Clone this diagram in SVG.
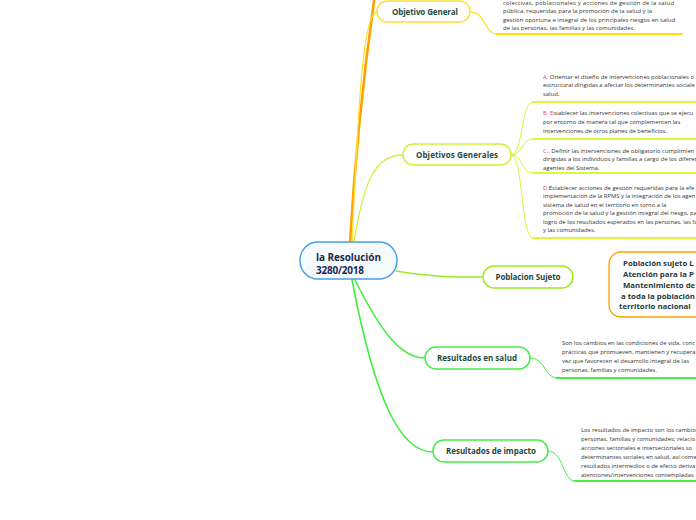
<svg xmlns="http://www.w3.org/2000/svg" width="696" height="520" viewBox="0 0 696 520">
<style>
.node{fill:#ffffff;stroke-width:1.5}
.nt{font-family:"Open Sans","Noto Sans",sans-serif;font-weight:bold;font-size:8px;fill:#1e4a3c;text-anchor:middle}
.bt{font-family:"Open Sans","Noto Sans",sans-serif;font-size:5.9px;fill:#333333}
.red{fill:#e8406a}
.c{fill:none;stroke-linecap:round}
</style>
<rect width="696" height="520" fill="#ffffff"/>
<g id="connectors">
  <path class="c" d="M350,243 Q357,120 375,-6" stroke="#ffa000" stroke-width="2.6"/>
  <path class="c" d="M352,242 C358,120 362,12 377,12" stroke="#ffe033" stroke-width="1.3"/>
  <path class="c" d="M354,242 C364,180 375,155 403,155" stroke="#d2f03a" stroke-width="1.3"/>
  <path class="c" d="M396,271 C440,278 460,277 483,277" stroke="#99ec22" stroke-width="1.5"/>
  <path class="c" d="M355,280 C380,330 400,358 425,358" stroke="#44ee44" stroke-width="1.6"/>
  <path class="c" d="M352,280 C375,400 400,452 433,452" stroke="#44ee44" stroke-width="1.6"/>
  <path class="c" d="M470,12 C486,12 484,34 497,34" stroke="#ffe033" stroke-width="1.3"/>
  <path class="c" d="M497,34 L682,34" stroke="#ffe000" stroke-width="2"/>
  <g stroke="#d8f53a" stroke-width="1">
    <path class="c" d="M511,155 C524,155 520,102 533,102"/>
    <path class="c" d="M511,155 C524,155 520,139 533,139"/>
    <path class="c" d="M511,155 C524,155 520,173 533,173"/>
    <path class="c" d="M511,155 C524,155 520,238 533,238"/>
  </g>
  <g stroke="#dcf83a" stroke-width="2">
    <path class="c" d="M533,102 L700,102"/>
    <path class="c" d="M533,139 L700,139"/>
    <path class="c" d="M533,173 L700,173"/>
    <path class="c" d="M533,238 L700,238"/>
  </g>
  <path class="c" d="M530,358 C546,358 544,378 557,378" stroke="#44ee44" stroke-width="1"/>
  <path class="c" d="M557,378 L700,378" stroke="#44ee44" stroke-width="2"/>
  <path class="c" d="M548,451 C564,451 562,481 575,481" stroke="#44ee44" stroke-width="1"/>
  <path class="c" d="M575,481 L700,481" stroke="#44ee44" stroke-width="2"/>
</g>
<g id="root">
  <rect x="300" y="242" width="97" height="37" rx="18" fill="#f6fbff" stroke="#4d9de0" stroke-width="1.5"/>
  <text x="316" y="261" font-family="'Open Sans','Noto Sans',sans-serif" font-weight="bold" font-size="10px" fill="#1b2a4e" textLength="65">la Resolución</text>
  <text x="316" y="274" font-family="'Open Sans','Noto Sans',sans-serif" font-weight="bold" font-size="10px" fill="#1b2a4e" textLength="48">3280/2018</text>
</g>
<g id="objetivo-general">
  <rect class="node" x="377" y="1" width="93" height="21" rx="10.5" stroke="#ffe033"/>
  <text class="nt" x="425" y="15" textLength="66">Objetivo General</text>
  <text class="bt" x="503" y="4.5" textLength="171">colectivas, poblacionales y acciones de gestión de la salud</text>
  <text class="bt" x="503" y="12.5" textLength="149">pública, requeridas para la promoción de la salud y la</text>
  <text class="bt" x="503" y="21.5" textLength="172">gestión oportuna e integral de los principales riesgos en salud</text>
  <text class="bt" x="503" y="29.5" textLength="132">de las personas, las familias y las comunidades.</text>
</g>
<g id="objetivos-generales">
  <rect class="node" x="403" y="144" width="108" height="21" rx="10.5" stroke="#d2f03a"/>
  <text class="nt" x="457" y="158" textLength="82">Objetivos  Generales</text>
</g>
<g id="obj-a">
  <text class="bt" x="543" y="78.5"><tspan class="red">A. </tspan>Orientar el diseño de intervenciones poblacionales o</text>
  <text class="bt" x="543" y="87">estructural dirigidas a afectar los determinantes sociale</text>
  <text class="bt" x="543" y="95.5">salud,</text>
</g>
<g id="obj-b">
  <text class="bt" x="543" y="115"><tspan class="red">B. E</tspan>stablecer las intervenciones colectivas que se ejecu</text>
  <text class="bt" x="543" y="124">por entorno de manera tal que complementen las</text>
  <text class="bt" x="543" y="132.5">intervenciones de otros planes de beneficios.</text>
</g>
<g id="obj-c">
  <text class="bt" x="543" y="152.5"><tspan class="red">C.</tspan>. Definir  las intervenciones de obligatorio cumplimien</text>
  <text class="bt" x="543" y="161">dirigidas a los individuos y familias a cargo de los diferen</text>
  <text class="bt" x="543" y="169.5">agentes del Sistema,</text>
</g>
<g id="obj-d">
  <text class="bt" x="543" y="189.5"><tspan class="red">D.</tspan>Establecer acciones de gestión requeridas para la efe</text>
  <text class="bt" x="543" y="198">implementación de la RPMS y la integración de los agen</text>
  <text class="bt" x="543" y="206.5">sistema de salud en el territorio en torno a la</text>
  <text class="bt" x="543" y="215">promoción de la salud y la gestión integral del riesgo, pa</text>
  <text class="bt" x="543" y="223.5">logro de los resultados esperados en las personas, las fa</text>
  <text class="bt" x="543" y="232">y las comunidades.</text>
</g>
<g id="poblacion-sujeto">
  <rect class="node" x="483" y="266" width="90" height="22" rx="11" stroke="#99ec22"/>
  <text class="nt" x="528" y="280" textLength="65">Poblacion Sujeto</text>
</g>
<g id="poblacion-detalle">
  <rect x="609" y="252" width="110" height="65" rx="12" fill="#ffffff" stroke="#ffa000" stroke-width="1.3"/>
  <g font-family="'Open Sans','Noto Sans',sans-serif" font-weight="bold" font-size="7.8px" fill="#1e3a40">
    <text x="623" y="266">Población sujeto L</text>
    <text x="623" y="277">Atención para la P</text>
    <text x="623" y="288">Mantenimiento de</text>
    <text x="621" y="299">a toda la población</text>
    <text x="619" y="309">territorio nacional</text>
  </g>
</g>
<g id="resultados-salud">
  <rect class="node" x="425" y="347" width="105" height="22" rx="11" stroke="#44ee44"/>
  <text class="nt" x="477" y="361" textLength="80">Resultados en salud</text>
  <text class="bt" x="562" y="345">Son los cambios en las condiciones de vida, conc</text>
  <text class="bt" x="562" y="354">prácticas que promueven, mantienen y recupera</text>
  <text class="bt" x="562" y="363" textLength="127">vez que favorecen el desarrollo integral de las</text>
  <text class="bt" x="562" y="372" textLength="95">personas, familias y comunidades.</text>
</g>
<g id="resultados-impacto">
  <rect class="node" x="433" y="440" width="115" height="22" rx="11" stroke="#44ee44"/>
  <text class="nt" x="491" y="454" textLength="90">Resultados de impacto</text>
  <text class="bt" x="581" y="432">Los resultados de impacto son los cambio</text>
  <text class="bt" x="581" y="441">personas, familias y comunidades; relacio</text>
  <text class="bt" x="581" y="450">acciones sectoriales e intersectoriales so</text>
  <text class="bt" x="581" y="459">determinantes sociales en salud, así come</text>
  <text class="bt" x="581" y="468">resultados intermedios o de efecto deriva</text>
  <text class="bt" x="581" y="476.5">atenciones/intervenciones contempladas</text>
</g>
</svg>
